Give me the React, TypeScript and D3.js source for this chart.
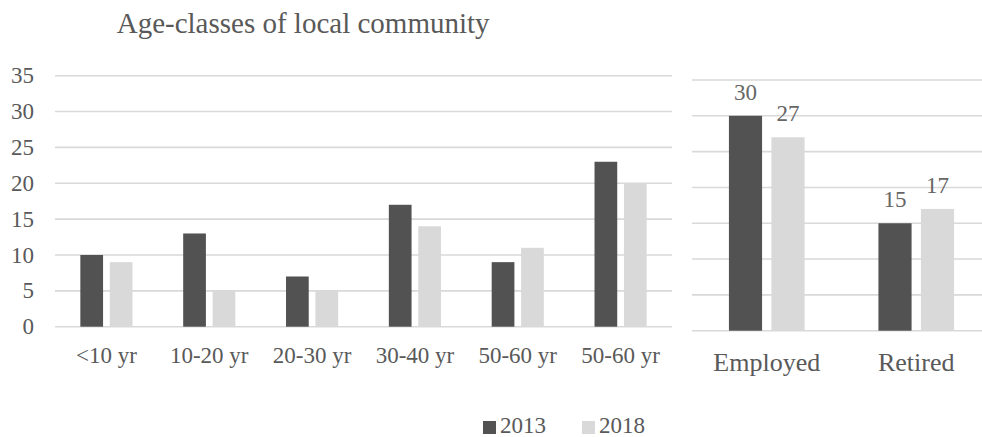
import React from "react";
import * as d3 from "d3";

const ageCategories = ["<10 yr", "10-20 yr", "20-30 yr", "30-40 yr", "50-60 yr", "50-60 yr "];
const age2013 = [10, 13, 7, 17, 9, 23];
const age2018 = [9, 5, 5, 14, 11, 20];

const workCategories = ["Employed", "Retired"];
const work2013 = [30, 15];
const work2018 = [27, 17];

const seriesNames = ["2013", "2018"];
const yTicks = [0, 5, 10, 15, 20, 25, 30, 35];

const DARK = "#525252";
const LIGHT = "#d9d9d9";
const GRID = "#d9d9d9";
const TEXT = "#595959";
const FONT = '"Liberation Serif", "Times New Roman", Times, serif';

export default function App() {
  const W = 982;
  const H = 437;

  const yL = d3.scaleLinear().domain([0, 35]).range([326.7, 75.7]);
  const xL = d3.scaleBand<string>().domain(ageCategories).range([55, 672]).paddingInner(0.493).paddingOuter(0.2465);
  const xLs = d3.scaleBand<string>().domain(seriesNames).range([0, xL.bandwidth()]).paddingInner(0.228);

  const yR = d3.scaleLinear().domain([0, 35]).range([330.7, 80]);
  const xR = d3.scaleBand<string>().domain(workCategories).range([692, 991]).paddingInner(0.494).paddingOuter(0.247);
  const xRs = d3.scaleBand<string>().domain(seriesNames).range([0, xR.bandwidth()]).paddingInner(0.22);

  const leftSeries = [age2013, age2018];
  const rightSeries = [work2013, work2018];
  const colors = [DARK, LIGHT];

  return (
    <svg width={W} height={H} style={{ position: "absolute", left: 0, top: 0, background: "#fff", fontFamily: FONT }}>
      <text x={116.7} y={33} fontSize={29} fill={TEXT}>Age-classes of local community</text>

      {yTicks.map((t) => (
        <g key={"gl" + t}>
          <line x1={55} x2={672} y1={yL(t)} y2={yL(t)} stroke={GRID} strokeWidth={1.6} />
          <text x={34} y={yL(t)} dy="0.33em" textAnchor="end" fontSize={23} fill={TEXT}>{t}</text>
        </g>
      ))}
      {ageCategories.map((c, i) => (
        <g key={"lc" + i}>
          {leftSeries.map((s, j) => (
            <rect
              key={j}
              x={(xL(c) as number) + (xLs(seriesNames[j]) as number)}
              y={yL(s[i])}
              width={xLs.bandwidth()}
              height={yL(0) - yL(s[i])}
              fill={colors[j]}
            />
          ))}
          <text x={(xL(c) as number) + xL.bandwidth() / 2} y={363.3} textAnchor="middle" fontSize={23} fill={TEXT}>{c.trim()}</text>
        </g>
      ))}

      {yTicks.map((t) => (
        <line key={"gr" + t} x1={692} x2={982} y1={yR(t)} y2={yR(t)} stroke={GRID} strokeWidth={1.6} />
      ))}
      {workCategories.map((c, i) => (
        <g key={"rc" + i}>
          {rightSeries.map((s, j) => {
            const x = (xR(c) as number) + (xRs(seriesNames[j]) as number);
            return (
              <g key={j}>
                <rect x={x} y={yR(s[i])} width={xRs.bandwidth()} height={yR(0) - yR(s[i])} fill={colors[j]} />
                <text x={x + xRs.bandwidth() / 2} y={yR(s[i]) - 16} textAnchor="middle" fontSize={23} fill="#666666">{s[i]}</text>
              </g>
            );
          })}
          <text x={(xR(c) as number) + xR.bandwidth() / 2} y={370.7} textAnchor="middle" fontSize={26} fill={TEXT}>{c}</text>
        </g>
      ))}

      {seriesNames.map((n, j) => (
        <g key={"lg" + n} transform={`translate(${483 + j * 99},0)`}>
          <rect x={0} y={421} width={13} height={13} fill={colors[j]} />
          <text x={17} y={433} fontSize={23} fill={TEXT}>{n}</text>
        </g>
      ))}
    </svg>
  );
}
